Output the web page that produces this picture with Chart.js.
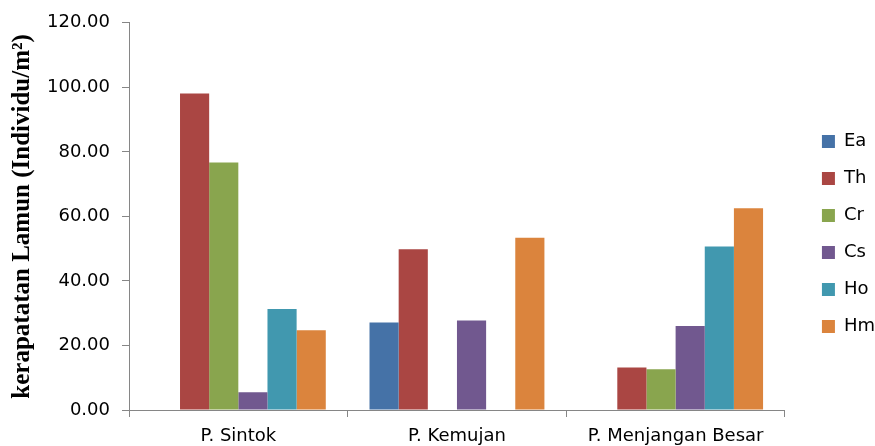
<!DOCTYPE html>
<html>
<head>
<meta charset="utf-8">
<script src="https://cdn.jsdelivr.net/npm/chart.js@4/dist/chart.umd.min.js"></script>
<style>
  html, body { margin: 0; padding: 0; background: #fff; }
  #wrap { width: 875px; height: 446px; position: relative; }
</style>
</head>
<body>
<div id="wrap"><canvas id="bar-chart" width="875" height="446"></canvas></div>
<script>
// data
var stations = ["P. Sintok", "P. Kemujan", "P. Menjangan Besar"];
var species  = ["Ea", "Th", "Cr", "Cs", "Ho", "Hm"];
var ea = [0, 27.1, 0];
var th = [98.1, 49.8, 13.2];
var cr = [76.7, 0, 12.6];
var cs = [5.5, 27.7, 26.0];
var ho = [31.3, 0, 50.7];
var hm = [24.7, 53.4, 62.5];
var yTicks = [0, 20, 40, 60, 80, 100, 120];

var colors = ["#4572A7", "#AA4643", "#89A54E", "#71588F", "#4198AF", "#DB843D"];
var axisColor = "#868686";
var tickFont = { family: "DejaVu Sans", size: 18 };

var series = [ea, th, cr, cs, ho, hm];
var datasets = series.map(function (vals, i) {
  return {
    label: species[i],
    data: vals,
    backgroundColor: colors[i],
    borderWidth: 0,
    barPercentage: 1,
    categoryPercentage: 0.8
  };
});

// push the legend a bit further from the plot, like the original
var legendShift = {
  id: "legendShift",
  afterLayout: function (chart) {
    var lg = chart.legend;
    if (lg) { lg.left += 18; lg.right += 18; }
  }
};

var ctx = document.getElementById("bar-chart");
var chart = new Chart(ctx, {
  type: "bar",
  data: { labels: stations, datasets: datasets },
  plugins: [legendShift],
  options: {
    responsive: false,
    animation: false,
    layout: { padding: { top: 22, left: 0, right: 8, bottom: 0 } },
    plugins: {
      tooltip: { enabled: false },
      legend: {
        position: "right",
        labels: {
          boxWidth: 13,
          boxHeight: 13,
          padding: 19,
          color: "#000",
          font: tickFont
        }
      }
    },
    scales: {
      x: {
        grid: {
          offset: true,
          drawOnChartArea: false,
          drawTicks: true,
          tickLength: 7,
          color: axisColor
        },
        border: { color: axisColor, width: 1 },
        ticks: { color: "#000", font: tickFont, padding: 9, maxRotation: 0 },
        afterFit: function (scale) { scale.height = 36; }
      },
      y: {
        min: 0,
        max: 120,
        afterBuildTicks: function (scale) {
          scale.ticks = yTicks.map(function (v) { return { value: v }; });
        },
        grid: {
          drawOnChartArea: false,
          drawTicks: true,
          tickLength: 7,
          color: axisColor
        },
        border: { color: axisColor, width: 1 },
        ticks: {
          color: "#000",
          font: tickFont,
          padding: 12,
          callback: function (v) { return Number(v).toFixed(2); }
        },
        title: {
          display: true,
          text: "kerapatatan Lamun (Individu/m²)",
          color: "#000",
          font: { family: "Liberation Serif", size: 25, weight: "bold" },
          padding: { top: 8, bottom: 0 }
        },
        afterFit: function (scale) { scale.width = 129; }
      }
    }
  }
});
</script>
</body>
</html>
